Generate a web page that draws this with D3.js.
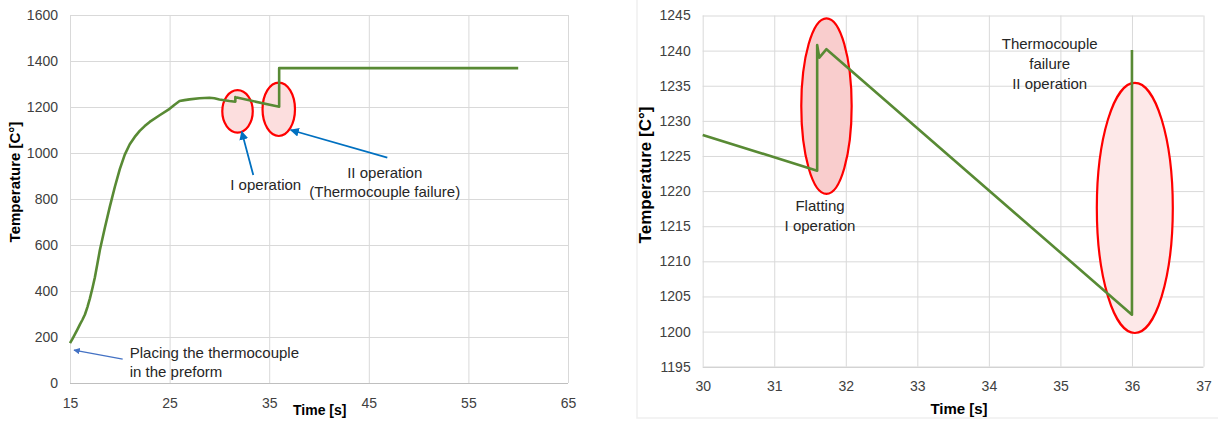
<!doctype html>
<html lang="en">
<head>
  <meta charset="UTF-8">
  <title>Temperature vs time</title>
  <script src="https://d3js.org/d3.v7.min.js"></script>
  <style>
    body { margin: 0; background: #fff; }
    text { font-family: "Liberation Sans", Arial, sans-serif; }
  </style>
</head>
<body>
  <div id="myDiv"></div>
  <script type="text/javascript">
    // full run (left chart)
    var fullTime = [15, 15.25, 15.5, 15.75, 16, 16.25, 16.5, 16.75, 17, 17.25, 17.5, 17.75, 18, 18.5, 19, 19.5, 20, 20.5, 21, 21.5, 22, 22.5, 23, 24, 25, 25.5, 26, 26.5, 27, 28, 29, 29.5, 30, 31, 31.6, 31.6, 31.65, 31.75, 36, 36, 60];
    var fullTemp = [173, 192, 212, 233, 255, 275, 298, 330, 368, 412, 460, 518, 578, 675, 767, 852, 930, 993, 1038, 1070, 1096, 1117, 1135, 1164, 1192, 1210, 1226, 1230, 1233, 1238, 1240, 1238, 1233, 1226, 1223, 1243, 1239, 1241, 1201, 1369, 1369];
    // zoom on the two operations (right chart)
    var zoomTime = [30, 31.6, 31.6, 31.63, 31.73, 36, 36];
    var zoomTemp = [1228, 1222.9, 1240.8, 1239, 1240.2, 1202.4, 1240.1];

    var fullXTicks = [15, 25, 35, 45, 55, 65];
    var fullYTicks = [0, 200, 400, 600, 800, 1000, 1200, 1400, 1600];
    var zoomXTicks = [30, 31, 32, 33, 34, 35, 36, 37];
    var zoomYTicks = [1195, 1200, 1205, 1210, 1215, 1220, 1225, 1230, 1235, 1240, 1245];

    // highlighted spots: [time, temp, half width (s), half height (°C)]
    var fullSpots = [[31.82, 1181, 1.53, 92], [35.96, 1190, 1.63, 116]];
    var zoomSpots = [[31.73, 1232.1, 0.352, 12.5], [36.04, 1217.6, 0.531, 17.8]];

    var lineColor = "#588a34";

    var svg = d3.select("#myDiv").append("svg")
      .attr("width", 1218)
      .attr("height", 421);

    svg.append("rect").attr("width", 1218).attr("height", 421).attr("fill", "#fff");

    function drawChart(cfg) {
      var x = d3.scaleLinear().domain(cfg.xDomain).range(cfg.xRange);
      var y = d3.scaleLinear().domain(cfg.yDomain).range(cfg.yRange);
      var w = cfg.xRange[1] - cfg.xRange[0];
      var h = cfg.yRange[0] - cfg.yRange[1];
      var g = svg.append("g");

      // grid + y labels
      var yAxis = d3.axisLeft(y).tickValues(cfg.yTicks).tickSize(-w).tickPadding(12).tickFormat(d3.format("d"));
      var ya = g.append("g").attr("transform", "translate(" + cfg.xRange[0] + ",0)").call(yAxis);
      ya.select(".domain").remove();
      ya.selectAll("line").attr("stroke", "#d9d9d9");
      ya.selectAll(".tick:first-of-type line").attr("stroke", "#bfbfbf");
      ya.selectAll("text").attr("font-size", 14).attr("fill", "#404040");

      var xAxis = d3.axisBottom(x).tickValues(cfg.xTicks).tickSize(-h).tickPadding(cfg.xPad).tickFormat(d3.format("d"));
      var xa = g.append("g").attr("transform", "translate(0," + cfg.yRange[0] + ")").call(xAxis);
      xa.select(".domain").remove();
      xa.selectAll("line").attr("stroke", "#d9d9d9");
      xa.selectAll("text").attr("font-size", 14).attr("fill", "#404040");

      // ellipses
      g.selectAll("ellipse").data(cfg.spots).enter().append("ellipse")
        .attr("cx", function(d) { return x(d[0]); })
        .attr("cy", function(d) { return y(d[1]); })
        .attr("rx", function(d) { return x(d[0] + d[2]) - x(d[0]); })
        .attr("ry", function(d) { return y(d[1]) - y(d[1] + d[3]); })
        .attr("fill", function(d, i) { return cfg.spotFill[i]; })
        .attr("stroke", "#ff0000")
        .attr("stroke-width", 2.2);

      // temperature line
      var line = d3.line()
        .x(function(d) { return x(d[0]); })
        .y(function(d) { return y(d[1]); });
      g.append("path")
        .datum(d3.zip(cfg.time, cfg.temp))
        .attr("d", line)
        .attr("fill", "none")
        .attr("stroke", lineColor)
        .attr("stroke-width", 2.6)
        .attr("stroke-linejoin", "round");

      // axis titles
      g.append("text")
        .attr("x", cfg.xTitle[0]).attr("y", cfg.xTitle[1])
        .attr("text-anchor", cfg.xTitle[2])
        .attr("font-size", cfg.xTitle[3]).attr("font-weight", "bold").attr("fill", "#000")
        .text("Time [s]");
      g.append("text")
        .attr("transform", "translate(" + cfg.yTitle[0] + "," + cfg.yTitle[1] + ") rotate(-90)")
        .attr("text-anchor", "middle")
        .attr("font-size", cfg.yTitle[2]).attr("font-weight", "bold").attr("fill", "#000")
        .text("Temperature [C°]");

      // notes
      cfg.notes.forEach(function(n) {
        var t = g.append("text")
          .attr("x", x(n.t)).attr("y", y(n.v))
          .attr("text-anchor", n.anchor)
          .attr("font-size", 15).attr("fill", "#262626");
        n.lines.forEach(function(s, i) {
          t.append("tspan").attr("x", x(n.t)).attr("dy", i === 0 ? 0 : n.step).text(s);
        });
      });

      return { x: x, y: y, g: g };
    }

    var defs = svg.append("defs");
    [["arrBlue", "#0070c0"], ["arrLight", "#4472c4"]].forEach(function(a) {
      defs.append("marker")
        .attr("id", a[0]).attr("viewBox", "0 0 10 10")
        .attr("refX", 9).attr("refY", 5)
        .attr("markerWidth", 5).attr("markerHeight", 5)
        .attr("orient", "auto")
        .append("path").attr("d", "M0,0 L10,5 L0,10 z").attr("fill", a[1]);
    });

    var left = drawChart({
      xDomain: [15, 65], xRange: [70, 568],
      yDomain: [0, 1600], yRange: [383, 15],
      xTicks: fullXTicks, yTicks: fullYTicks, xPad: 15,
      time: fullTime, temp: fullTemp,
      spots: fullSpots, spotFill: ["#fcdede", "#fcdede"],
      xTitle: [293, 415, "start", 14],
      yTitle: [20, 182, 15],
      notes: [
        { t: 34.65, v: 839, anchor: "middle", lines: ["I operation"], step: 18 },
        { t: 46.6, v: 891, anchor: "middle", lines: ["II operation", "(Thermocouple failure)"], step: 19 },
        { t: 21.0, v: 108, anchor: "start", lines: ["Placing the thermocouple", "in the preform"], step: 18.5 }
      ]
    });

    // arrows on the left chart: [fromTime, fromTemp, toTime, toTemp, marker, colour, width]
    var arrows = [
      [33.4, 904, 32.24, 1093, "arrBlue", "#0070c0", 1.8],
      [46.86, 980, 37.16, 1100, "arrBlue", "#0070c0", 1.8],
      [20.29, 104, 15.4, 143, "arrLight", "#4472c4", 1.3]
    ];
    left.g.selectAll(".arrow").data(arrows).enter().append("line")
      .attr("class", "arrow")
      .attr("x1", function(d) { return left.x(d[0]); })
      .attr("y1", function(d) { return left.y(d[1]); })
      .attr("x2", function(d) { return left.x(d[2]); })
      .attr("y2", function(d) { return left.y(d[3]); })
      .attr("stroke", function(d) { return d[5]; })
      .attr("stroke-width", function(d) { return d[6]; })
      .attr("marker-end", function(d) { return "url(#" + d[4] + ")"; });

    // faint frame of the right picture
    svg.append("path")
      .attr("d", "M637,0 V418 H1218")
      .attr("fill", "none").attr("stroke", "#f0f0f0").attr("stroke-width", 1.5);

    drawChart({
      xDomain: [30, 37], xRange: [702.7, 1203.5],
      yDomain: [1195, 1245], yRange: [366.7, 15.5],
      xTicks: zoomXTicks, yTicks: zoomYTicks, xPad: 14,
      time: zoomTime, temp: zoomTemp,
      spots: zoomSpots, spotFill: ["#f9cdcd", "#fde8e8"],
      xTitle: [959, 414, "middle", 15],
      yTitle: [651, 175, 17],
      notes: [
        { t: 31.64, v: 1217.2, anchor: "middle", lines: ["Flatting", "I operation"], step: 20 },
        { t: 34.85, v: 1240.3, anchor: "middle", lines: ["Thermocouple", "failure", "II operation"], step: 20 }
      ]
    });
  </script>
</body>
</html>
